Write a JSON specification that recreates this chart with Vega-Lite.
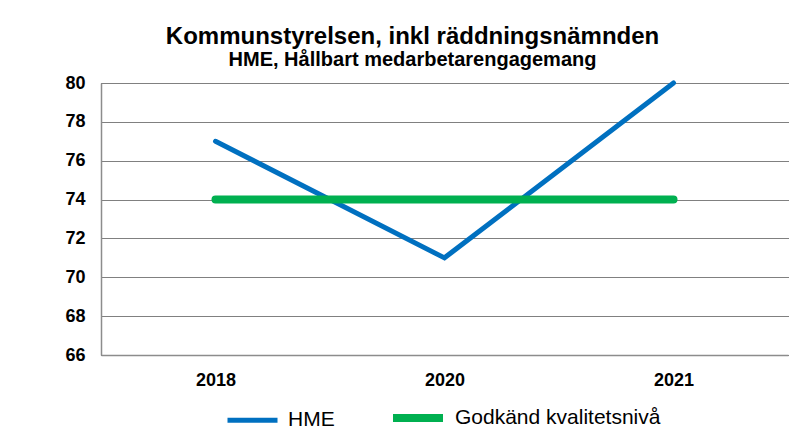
{
  "$schema": "https://vega.github.io/schema/vega-lite/v6.json",
  "autosize": "none",
  "width": 687,
  "height": 272,
  "padding": {"left": 101, "top": 83, "right": 21, "bottom": 79},
  "background": "white",
  "title": {
    "text": "Kommunstyrelsen, inkl räddningsnämnden",
    "subtitle": "HME, Hållbart medarbetarengagemang",
    "font": "Liberation Sans",
    "fontSize": 24,
    "fontWeight": "bold",
    "color": "black",
    "subtitleFont": "Liberation Sans",
    "subtitleFontSize": 20,
    "subtitleFontWeight": "bold",
    "subtitleColor": "black",
    "subtitlePadding": 1,
    "anchor": "middle",
    "dx": -32,
    "offset": 3
  },
  "data": {
    "values": [
      {"serie": "HME", "year": "2018", "value": 77},
      {"serie": "HME", "year": "2020", "value": 71},
      {"serie": "HME", "year": "2021", "value": 80},
      {"serie": "Godkänd kvalitetsnivå", "year": "2018", "value": 74},
      {"serie": "Godkänd kvalitetsnivå", "year": "2020", "value": 74},
      {"serie": "Godkänd kvalitetsnivå", "year": "2021", "value": 74}
    ]
  },
  "mark": {"type": "line", "strokeCap": "round", "strokeJoin": "miter"},
  "encoding": {
    "x": {
      "field": "year", "type": "ordinal",
      "scale": {"type": "point", "padding": 0.5},
      "axis": {
        "title": null, "labelAngle": 0, "ticks": false,
        "labelFont": "Liberation Sans", "labelFontSize": 18, "labelFontWeight": "bold",
        "labelColor": "black", "labelPadding": 16,
        "domainColor": "#8c8c8c", "domainWidth": 1.5
      }
    },
    "y": {
      "field": "value", "type": "quantitative",
      "scale": {"domain": [66, 80], "nice": false, "zero": false},
      "axis": {
        "title": null, "values": [66, 68, 70, 72, 74, 76, 78, 80], "ticks": false,
        "labelFont": "Liberation Sans", "labelFontSize": 18, "labelFontWeight": "bold",
        "labelColor": "black", "labelPadding": 16,
        "domainColor": "#8c8c8c", "domainWidth": 1.5,
        "grid": true, "gridColor": "#000", "gridDash": [1, 1], "gridWidth": 1
      }
    },
    "color": {
      "field": "serie", "type": "nominal",
      "scale": {"domain": ["HME", "Godkänd kvalitetsnivå"], "range": ["#0070C0", "#00B050"]},
      "legend": {
        "title": null, "orient": "none", "legendX": 124, "legendY": 306, "direction": "horizontal",
        "symbolType": "stroke", "symbolSize": 2500, "labelLimit": 0,
        "labelFont": "Liberation Sans", "labelFontSize": 21, "labelColor": "black",
        "labelOffset": 8, "columnPadding": 42
      }
    },
    "strokeWidth": {
      "field": "serie", "type": "nominal",
      "scale": {"domain": ["HME", "Godkänd kvalitetsnivå"], "range": [5, 8]},
      "legend": {
        "title": null, "orient": "none", "legendX": 124, "legendY": 306, "direction": "horizontal",
        "symbolType": "stroke", "symbolSize": 2500, "labelLimit": 0,
        "labelFont": "Liberation Sans", "labelFontSize": 21, "labelColor": "black",
        "labelOffset": 8, "columnPadding": 42
      }
    }
  },
  "config": {"view": {"stroke": null}}
}
